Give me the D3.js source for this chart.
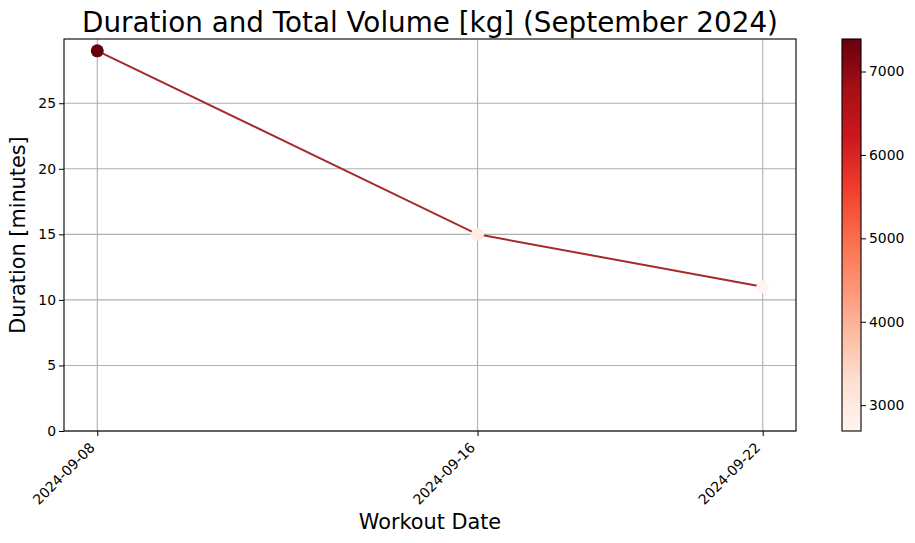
<!DOCTYPE html>
<html><head><meta charset="utf-8">
<script src="https://cdn.jsdelivr.net/npm/d3@7"></script>
<style>body{margin:0;background:#fff}svg{display:block;font-family:"DejaVu Sans",sans-serif}</style>
</head><body><svg id="c" width="915" height="543"></svg>
<script>
const dates = ["2024-09-08","2024-09-16","2024-09-22"];
const durations = [29, 15, 11];
const volumes = [7390, 2950, 2690];
const yTicks = [0,5,10,15,20,25];
const cbTicks = [3000,4000,5000,6000,7000];

const svg = d3.select("#c");
const L=64,R=796,T=39,B=431;
const parse = d3.utcParse("%Y-%m-%d");
const dd = dates.map(parse);
const ext = d3.extent(dd);
const span = ext[1]-ext[0];
const x = d3.scaleUtc().domain([new Date(+ext[0]-0.05*span), new Date(+ext[1]+0.05*span)]).range([L,R]);
const ymax = d3.max(durations) + 0.05*(d3.max(durations)-d3.min(durations));
const y = d3.scaleLinear().domain([0,ymax]).range([B,T]);
const vext = d3.extent(volumes);
const reds = d3.schemeReds[9];
const cmap = d3.scaleLinear().domain(reds.map((_,i)=>vext[0]+i*(vext[1]-vext[0])/8)).range(reds).clamp(true);

// grid
svg.append("g").selectAll("line").data(dd).join("line")
  .attr("x1",d=>x(d)).attr("x2",d=>x(d)).attr("y1",T).attr("y2",B).attr("stroke","#b0b0b0").attr("stroke-width",1.1);
svg.append("g").selectAll("line").data(yTicks).join("line")
  .attr("x1",L).attr("x2",R).attr("y1",d=>y(d)).attr("y2",d=>y(d)).attr("stroke","#b0b0b0").attr("stroke-width",1.1);

// line
const pts = dd.map((d,i)=>({d, v:durations[i], c:volumes[i]}));
svg.append("path").datum(pts).attr("fill","none").attr("stroke","#a52a2a").attr("stroke-width",2)
  .attr("d", d3.line().x(p=>x(p.d)).y(p=>y(p.v)));
svg.append("g").selectAll("circle").data(pts).join("circle")
  .attr("cx",p=>x(p.d)).attr("cy",p=>y(p.v)).attr("r",6.5).attr("fill",p=>cmap(p.c));

// axes
const xa = svg.append("g").attr("transform",`translate(0,${B})`)
  .call(d3.axisBottom(x).tickValues(dd).tickFormat(d3.utcFormat("%Y-%m-%d")).tickSize(5).tickSizeOuter(0));
xa.select(".domain").remove();
xa.selectAll("text").attr("font-size",13.9).attr("fill","#000").attr("font-family","DejaVu Sans")
  .attr("text-anchor","end").attr("dy",null).attr("y",0)
  .attr("transform","translate(-2,17.5) rotate(-45)");
const ya = svg.append("g").attr("transform",`translate(${L},0)`)
  .call(d3.axisLeft(y).tickValues(yTicks).tickSize(5).tickSizeOuter(0).tickPadding(3));
ya.select(".domain").remove();
ya.selectAll("text").attr("font-size",13.9).attr("fill","#000").attr("font-family","DejaVu Sans");
svg.append("rect").attr("x",L).attr("y",T).attr("width",R-L).attr("height",B-T)
  .attr("fill","none").attr("stroke","#000").attr("stroke-width",1.1);

// labels
svg.append("text").attr("x",(L+R)/2).attr("y",32).attr("text-anchor","middle").attr("font-size",27.8)
  .text("Duration and Total Volume [kg] (September 2024)");
svg.append("text").attr("x",(L+R)/2).attr("y",529).attr("text-anchor","middle").attr("font-size",20.8)
  .text("Workout Date");
svg.append("text").attr("transform",`translate(25,${(T+B)/2}) rotate(-90)`).attr("text-anchor","middle").attr("font-size",20.8)
  .text("Duration [minutes]");

// colorbar
const cx0=842, cx1=861;
const cy = d3.scaleLinear().domain(vext).range([B,T]);
const defs = svg.append("defs");
const g = defs.append("linearGradient").attr("id","cb").attr("x1",0).attr("x2",0).attr("y1",1).attr("y2",0);
reds.forEach((c,i)=>g.append("stop").attr("offset",i/8).attr("stop-color",c));
svg.append("rect").attr("x",cx0).attr("y",T).attr("width",cx1-cx0).attr("height",B-T).attr("fill","url(#cb)")
  .attr("stroke","#000").attr("stroke-width",1.1);
const ca = svg.append("g").attr("transform",`translate(${cx1},0)`)
  .call(d3.axisRight(cy).tickValues(cbTicks).tickSize(5).tickPadding(3).tickFormat(d3.format("d")));
ca.select(".domain").remove();
ca.selectAll("text").attr("font-size",13.9).attr("fill","#000").attr("font-family","DejaVu Sans");
</script></body></html>
